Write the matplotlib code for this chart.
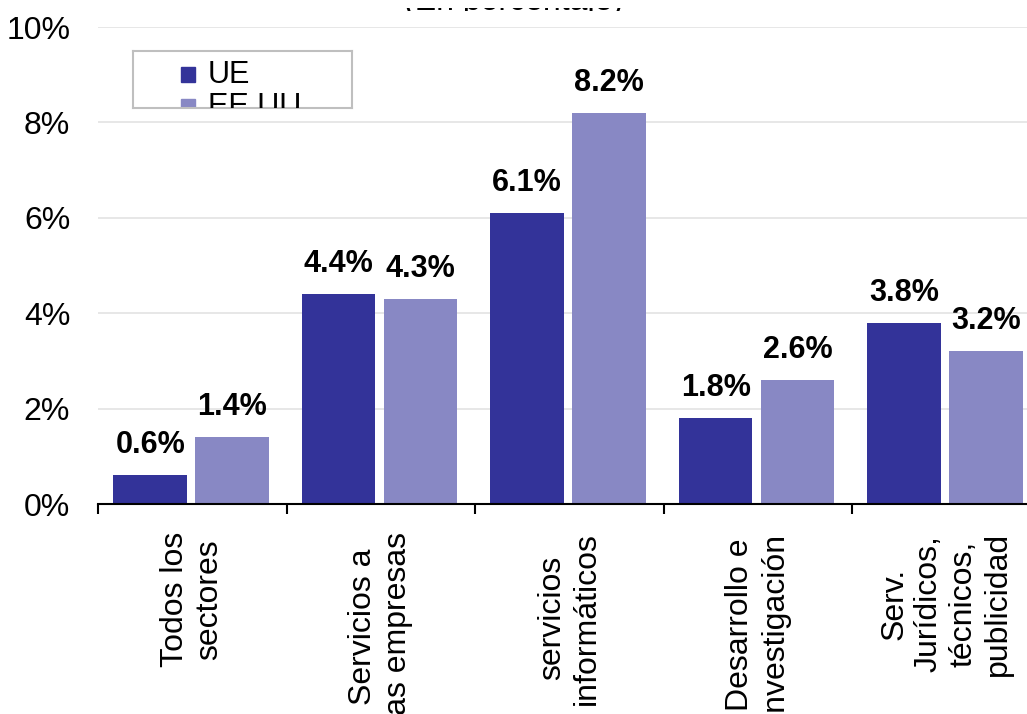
import numpy as np
import matplotlib
matplotlib.use("Agg")
import matplotlib.pyplot as plt
from matplotlib.patches import Rectangle

plt.rcParams['font.family'] = ['Liberation Sans', 'DejaVu Sans']

# datos
categorias = ["Todos los\nsectores", "Servicios a\nlas empresas", "servicios\ninformáticos",
              "Desarrollo e\ninvestigación", "Serv.\nJurídicos,\ntécnicos,\npublicidad"]
ue = [0.6, 4.4, 6.1, 1.8, 3.8]
eeuu = [1.4, 4.3, 8.2, 2.6, 3.2]
series = ["UE", "EE UU"]
colores = ["#333399", "#8888C4"]
yticks = [0, 2, 4, 6, 8, 10]

fig = plt.figure(figsize=(10.27, 7.14), dpi=100)
ax = fig.add_axes([98 / 1027, 1 - 504 / 714, 1 - 98 / 1027, (504 - 27) / 714])

x = np.arange(len(categorias))
ancho = 0.39
for vals, off, col in [(ue, 0.277, colores[0]), (eeuu, 0.71, colores[1])]:
    barras = ax.bar(x + off, vals, width=ancho, color=col, zorder=2)
    for b, v in zip(barras, vals):
        ax.annotate(f"{v:.1f}%", (b.get_x() + b.get_width() / 2, v),
                    xytext=(0, 16), textcoords="offset points",
                    ha="center", va="baseline", fontsize=22, fontweight="bold")

ax.set_yticks(yticks)
ax.set_yticklabels([f"{t}%" for t in yticks], fontsize=23)
ax.tick_params(axis="y", length=0, pad=20)
ax.yaxis.grid(True, color="#e3e3e3", linewidth=1.2, zorder=0)
ax.set_axisbelow(True)

# ticks en los limites de categoria, etiquetas en el centro
ax.set_xticks(np.arange(len(categorias) + 1))
ax.set_xticklabels([])
ax.tick_params(axis="x", which="major", direction="out", length=7, width=1.5, color="black")
ax.set_xticks(x + 0.5, minor=True)
ax.set_xticklabels(categorias, minor=True, rotation=90, fontsize=23,
                   va="top", ha="center", multialignment="center")
ax.tick_params(axis="x", which="minor", length=0, pad=20)

ax.set_xlim(0, (1027 - 98) / 188.5)
ax.set_ylim(0, 10)

for s in ["top", "right", "left"]:
    ax.spines[s].set_visible(False)
ax.spines["bottom"].set_linewidth(1.5)
ax.spines["bottom"].set_zorder(3)

# titulo recortado en el borde superior: solo se ve una franja fina
franja = fig.add_axes([0, 1 - 10.5 / 714, 1, 2.5 / 714])
franja.set_xticks([])
franja.set_yticks([])
franja.patch.set_alpha(0)
for s in franja.spines.values():
    s.set_visible(False)
franja.text(0.5, 0.2, "(En porcentaje)", transform=franja.transAxes,
            ha="center", va="baseline", fontsize=23, clip_on=True)

# leyenda recortada
lg = fig.add_axes([133 / 1027, 1 - 108 / 714, 219 / 1027, 57 / 714])
lg.set_xticks([])
lg.set_yticks([])
for s in lg.spines.values():
    s.set_color("#bfbfbf")
    s.set_linewidth(1.5)
for i, (nom, col) in enumerate(zip(series, colores)):
    y0 = (108 - 82) / 57 - i * 32 / 57
    lg.add_patch(Rectangle((48 / 219, y0), 14 / 219, 15 / 57, transform=lg.transAxes,
                           color=col, clip_on=True))
    lg.text(75 / 219, (108 - 83) / 57 - i * 32 / 57, nom, transform=lg.transAxes,
            fontsize=22, va="baseline", ha="left", clip_on=True)

fig.savefig("out.png", dpi=100)
